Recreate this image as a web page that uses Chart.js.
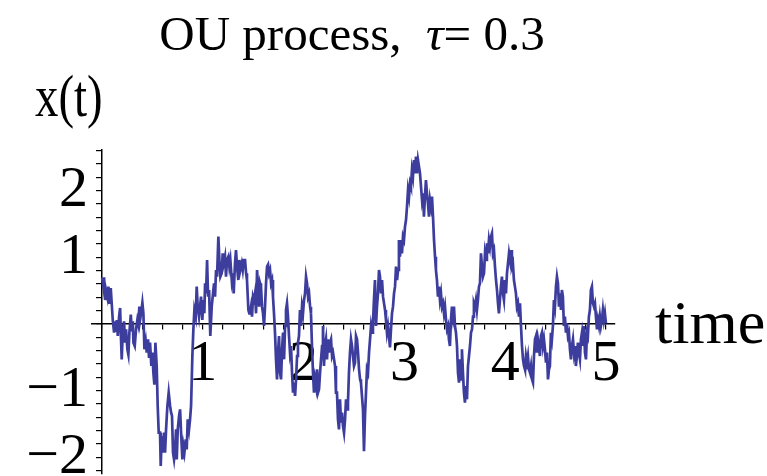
<!DOCTYPE html>
<html><head><meta charset="utf-8">
<script src="https://cdn.jsdelivr.net/npm/chart.js@4/dist/chart.umd.min.js"></script>
<style>html,body{margin:0;padding:0;background:#fff}#wrap{width:767px;height:476px}</style>
</head><body><div id="wrap"><canvas id="c" width="767" height="476"></canvas></div>
<script>
const titleParts = ['OU process,  ', '\u03C4', '= 0.3'];
const xAxisLabel = 'time';
const yAxisLabel = 'x(t)';
const xTickValues = [1, 2, 3, 4, 5];
const yTickValues = [-2, -1, 1, 2];

const times = [
0.000,0.013,0.020,0.030,0.040,0.053,0.063,0.073,0.086,0.096,0.106,0.119,0.129,0.139,0.146,0.156,0.169,0.179,0.188,0.195,
0.205,0.218,0.228,0.238,0.251,0.261,0.271,0.285,0.295,0.305,0.311,0.324,0.337,0.350,0.360,0.370,0.377,0.387,0.400,0.410,
0.420,0.433,0.443,0.456,0.466,0.476,0.489,0.499,0.509,0.519,0.529,0.542,0.552,0.562,0.575,0.582,0.592,0.602,0.615,0.625,
0.635,0.648,0.661,0.675,0.685,0.694,0.704,0.714,
0.724,0.734,0.741,0.751,0.764,0.774,0.784,0.797,0.807,0.817,0.830,0.840,0.850,0.863,0.873,0.883,0.896,0.906,0.916,0.929,
0.939,0.949,0.962,0.972,0.982,0.995,1.005,1.015,1.022,1.032,1.042,1.052,1.062,1.074,1.088,1.101,1.111,1.121,1.131,1.141,
1.154,1.164,1.174,1.187,1.197,1.207,1.220,1.230,1.240,1.253,1.263,1.273,1.287,1.296,1.306,1.319,1.329,1.339,1.352,1.362,
1.372,1.386,1.396,1.406,1.419,1.429,1.438,1.452,1.461,
1.468,1.478,1.488,1.498,1.508,1.518,1.528,1.538,1.548,1.558,1.568,1.577,1.587,1.597,1.607,1.617,1.627,1.637,1.647,1.657,
1.667,1.677,1.687,1.696,1.706,1.716,1.726,1.736,1.746,1.756,1.766,1.776,1.786,1.796,1.806,1.816,1.825,1.835,1.845,1.855,
1.865,1.875,1.885,1.895,1.905,1.915,1.925,1.935,1.944,1.954,1.964,1.974,1.984,1.994,2.004,2.014,2.024,2.034,2.044,2.054,
2.064,2.073,2.083,2.093,2.103,2.113,2.123,2.133,2.143,2.153,2.163,2.173,2.183,2.192,2.202,
2.212,2.222,2.232,2.242,2.252,2.262,2.272,2.282,2.292,2.302,2.312,2.321,2.331,2.341,2.351,2.361,2.371,2.381,2.391,2.401,
2.411,2.421,2.431,2.440,2.450,2.460,2.470,2.480,2.490,2.500,2.510,2.520,2.530,2.540,2.550,2.560,2.569,2.579,2.589,2.599,
2.609,2.619,2.629,2.639,2.649,2.659,2.669,2.679,2.688,2.698,2.708,2.718,2.728,2.738,2.748,2.758,2.768,2.778,2.788,2.798,
2.808,2.817,2.827,2.837,2.847,2.857,2.867,2.877,2.887,2.897,2.907,2.917,2.927,2.937,2.946,
2.956,2.966,2.976,2.986,2.996,3.006,3.016,3.026,3.036,3.046,3.056,3.065,3.075,3.085,3.095,3.105,3.115,3.125,3.135,3.145,
3.155,3.165,3.175,3.185,3.194,3.204,3.214,3.224,3.234,3.244,3.254,3.264,3.274,3.284,3.294,3.304,3.313,3.323,3.333,3.343,
3.353,3.363,3.373,3.383,3.393,3.403,3.413,3.423,3.433,3.442,3.452,3.462,3.472,3.482,3.492,3.502,3.512,3.522,3.532,3.542,
3.552,3.562,3.571,3.581,3.591,3.601,3.611,3.621,3.631,3.641,3.651,3.661,3.671,3.681,3.690,
3.700,3.710,3.720,3.730,3.740,3.750,3.760,3.770,3.780,3.790,3.800,3.810,3.819,3.829,3.839,3.849,3.859,3.869,3.879,3.889,
3.899,3.909,3.919,3.929,3.938,3.948,3.958,3.968,3.978,3.988,3.998,4.008,4.018,4.028,4.038,4.048,4.058,4.067,4.077,4.087,
4.097,4.107,4.117,4.127,4.137,4.147,4.157,4.167,4.177,4.187,4.196,4.206,4.216,4.226,4.236,4.246,4.256,4.266,4.276,4.286,
4.296,4.306,4.315,4.325,4.335,4.345,4.355,4.365,4.375,4.385,4.395,4.405,4.415,4.425,4.435,
4.444,4.454,4.464,4.474,4.484,4.494,4.504,4.514,4.524,4.534,4.544,4.554,4.563,4.573,4.583,4.593,4.603,4.613,4.623,4.633,
4.643,4.653,4.663,4.673,4.683,4.692,4.702,4.712,4.722,4.732,4.742,4.752,4.762,4.772,4.782,4.792,4.802,4.812,4.821,4.831,
4.841,4.851,4.861,4.871,4.881,4.891,4.901,4.911,4.921,4.931,4.940,4.950,4.960,4.970,4.980,4.990,5.000
];

const values = [
0.70,0.56,0.70,0.36,0.50,0.40,0.56,0.30,0.54,0.30,0.06,-0.13,0.04,-0.10,0.06,-0.18,0.11,0.24,-0.23,-0.53,
-0.13,0.04,-0.28,-0.08,-0.38,-0.46,-0.13,0.14,-0.11,0.04,-0.28,-0.33,-0.08,0.06,-0.01,0.26,0.06,0.16,0.32,0.16,
-0.38,-0.26,-0.43,-0.23,-0.51,-0.28,-0.63,-0.43,-0.73,-0.91,-0.28,-0.63,-1.23,-1.63,-1.63,-2.13,-1.68,-1.93,-1.63,-1.93,
-1.58,-1.23,-1.03,-1.23,-1.33,-1.38,-1.93,-2.03,
-1.88,-1.58,-2.03,-1.58,-1.38,-1.28,-1.63,-2.03,-1.83,-1.93,-1.73,-1.88,-1.43,-1.58,-1.43,-1.23,-0.48,-0.08,0.21,0.11,
0.56,0.26,0.11,0.26,0.41,0.06,0.36,0.16,0.61,0.46,0.96,0.41,0.51,-0.18,0.26,0.46,0.61,0.41,0.81,0.71,
1.31,0.96,0.71,0.76,1.06,0.91,1.01,0.71,0.96,1.01,0.86,0.96,0.66,0.76,0.46,0.91,1.11,0.86,0.66,0.96,
0.81,0.91,0.81,0.96,0.96,0.76,0.66,0.21,0.16,
0.16,0.26,0.11,0.41,0.36,0.46,0.16,0.81,0.56,0.26,0.61,0.56,0.26,0.16,-0.03,0.26,0.61,0.86,0.89,0.76,
0.81,0.61,0.66,0.41,0.16,-0.13,-0.53,-0.83,-0.43,-0.18,-0.73,-0.83,-0.38,-0.13,-0.53,-0.03,0.21,0.31,0.11,-0.18,
-0.43,-0.33,-0.73,-1.03,-0.88,-1.08,-0.83,-0.48,-0.28,-0.18,0.21,-0.03,0.26,0.16,0.36,0.46,0.71,0.61,0.41,0.46,
0.26,0.16,-0.33,-0.73,-1.03,-0.83,-0.93,-0.68,-1.03,-0.98,-0.73,-0.53,-0.33,-0.03,-0.63,
-0.33,-0.23,-0.53,-0.23,-0.43,-0.28,-0.23,-0.48,-0.43,-0.53,-0.63,-1.03,-1.03,-1.43,-1.58,-1.13,-1.48,-1.33,-1.53,-1.63,
-1.43,-1.13,-1.28,-1.18,-0.73,-0.43,-0.23,-0.33,-0.48,-0.63,-0.58,-0.18,-0.23,-0.43,-0.68,-0.83,-0.88,-1.08,-1.28,-1.91,
-1.38,-1.03,-0.68,-0.73,-0.43,-0.23,-0.03,-0.13,0.01,0.36,0.66,-0.03,0.26,0.46,0.81,0.71,0.46,0.66,0.41,0.31,
0.21,0.06,-0.13,-0.03,-0.18,-0.35,-0.08,0.16,0.26,0.46,0.56,0.86,0.66,0.81,1.26,
1.01,1.26,1.06,1.31,1.26,1.46,1.56,1.76,2.01,1.91,2.11,2.06,2.31,2.21,2.46,2.26,2.51,2.26,2.46,2.36,
2.26,2.06,1.86,1.96,1.61,1.91,2.16,1.96,1.81,1.61,1.86,1.76,1.91,1.61,1.26,1.01,0.81,0.66,0.41,0.56,
0.36,0.46,0.26,0.31,0.16,0.26,0.06,-0.08,-0.03,-0.23,-0.33,0.06,0.26,0.11,0.26,-0.03,-0.13,-0.33,-0.73,-0.88,
-0.53,-0.83,-0.38,-0.73,-1.03,-1.18,-0.93,-1.13,-0.63,-0.48,-0.33,-0.13,-0.08,0.11,0.31,
0.26,0.36,0.21,0.36,0.56,0.61,1.06,0.86,0.71,0.76,1.06,0.96,1.21,1.06,1.26,1.16,1.31,1.36,1.06,1.11,
0.86,0.66,0.51,0.31,0.16,0.36,0.56,0.71,0.46,0.36,0.66,0.46,0.76,0.91,1.06,0.96,1.11,0.86,0.91,0.66,
0.56,0.46,0.26,0.31,0.11,0.31,-0.03,-0.33,-0.53,-0.63,-0.68,-0.48,-0.58,-0.48,-0.68,-0.73,-0.63,-0.83,-0.88,-0.48,
-0.23,-0.18,-0.43,-0.23,-0.33,-0.48,-0.18,-0.13,-0.33,-0.23,-0.38,-0.58,-0.43,-0.83,-0.68,
-0.63,-0.13,-0.23,-0.03,0.36,0.26,0.56,0.71,0.61,0.26,0.46,0.21,0.51,0.41,-0.03,0.11,-0.13,0.01,-0.18,-0.13,
-0.38,-0.53,-0.33,-0.23,-0.43,-0.33,-0.63,-0.48,-0.28,-0.43,-0.53,-0.23,-0.13,-0.33,-0.03,-0.43,-0.53,-0.13,-0.18,0.11,
0.21,0.51,0.56,0.31,0.26,0.31,0.11,-0.08,0.06,-0.03,0.11,-0.03,0.06,0.21,0.06,0.16,0.01
];

const FONT = "'Liberation Serif', 'Times New Roman', serif";
const TICK_FONT_SIZE = 58;

function isMajor(v, list) {
  for (const m of list) if (Math.abs(v - m) < 1e-6) return m;
  return null;
}
function fmt(m) { return m < 0 ? '\u2212' + Math.abs(m) : String(m); }

const textPlugin = {
  id: 'plotTexts',
  afterDraw(chart) {
    const { ctx, scales } = chart;
    const xs = scales.x, ys = scales.y;
    ctx.save();
    ctx.fillStyle = '#000';
    ctx.textBaseline = 'alphabetic';
    ctx.textAlign = 'left';
    // title
    const fs = 49;
    const reg = `${fs}px ${FONT}`, ital = `italic ${fs}px ${FONT}`;
    ctx.font = reg; const w1 = ctx.measureText(titleParts[0]).width;
    ctx.font = ital; const w2 = ctx.measureText(titleParts[1]).width;
    ctx.font = reg; const w3 = ctx.measureText(titleParts[2]).width;
    const sx = 1.0;
    const total = (w1 + w2 + w3) * sx;
    ctx.save();
    ctx.translate(352 - total / 2, 50);
    ctx.scale(sx, 1);
    let tx = 0;
    ctx.font = reg; ctx.fillText(titleParts[0], tx, 0); tx += w1;
    ctx.font = ital; ctx.fillText(titleParts[1], tx, 0); tx += w2;
    ctx.font = reg; ctx.fillText(titleParts[2], tx, 0);
    ctx.restore();
    // y axis label
    ctx.save();
    ctx.translate(35, 116);
    ctx.scale(0.78, 1);
    ctx.font = `60px ${FONT}`;
    ctx.fillText(yAxisLabel, 0, 0);
    ctx.restore();
    // x axis label
    const zeroY = ys.getPixelForValue(0);
    ctx.font = `62px ${FONT}`;
    ctx.fillText(xAxisLabel, xs.right + 40, zeroY + 19);
    ctx.restore();
  }
};

const gridCommon = { drawOnChartArea: false, drawTicks: true, tickLength: 5, color: '#000', lineWidth: 1.2 };
const borderCommon = { display: true, color: '#000', width: 1.5 };
function noPadY(s) { s.width = 0; s.paddingTop = 0; s.paddingBottom = 0; s.paddingLeft = 0; s.paddingRight = 0; }
function noPadX(s) { s.height = 0; s.paddingTop = 0; s.paddingBottom = 0; s.paddingLeft = 0; s.paddingRight = 0; }

new Chart(document.getElementById('c').getContext('2d'), {
  type: 'line',
  data: {
    datasets: [{
      data: times.map((t, i) => ({ x: t, y: values[i] })),
      borderColor: '#3d3d9e',
      borderWidth: 2.7,
      pointRadius: 0,
      tension: 0,
      fill: false
    }]
  },
  options: {
    responsive: false,
    animation: false,
    devicePixelRatio: 1,
    layout: { padding: { left: 92, right: 152, top: 150, bottom: 2 } },
    plugins: { legend: { display: false }, tooltip: { enabled: false }, title: { display: false } },
    scales: {
      x: {
        type: 'linear', min: -0.1, max: 5.09, position: { y: 0 },
        afterFit: noPadX,
        grid: gridCommon, border: borderCommon,
        ticks: {
          stepSize: 0.2, includeBounds: false, autoSkip: false, maxRotation: 0, minRotation: 0,
          padding: 7, color: '#000',
          font: { family: FONT, size: TICK_FONT_SIZE, lineHeight: 1 },
          callback: (v) => { const m = isMajor(v, xTickValues); return m === null ? '' : fmt(m); }
        }
      },
      y: {
        type: 'linear', min: -2.25, max: 2.61, position: { x: 0 },
        afterFit: noPadY,
        grid: gridCommon, border: borderCommon,
        ticks: { stepSize: 0.2, includeBounds: false, display: false }
      },
      yLabels: {
        type: 'linear', axis: 'y', min: -2.25, max: 2.61, position: { x: -0.14 },
        afterFit: noPadY,
        grid: { display: false }, border: { display: false },
        ticks: {
          stepSize: 0.2, includeBounds: false, autoSkip: false, color: '#000',
          font: { family: FONT, size: TICK_FONT_SIZE, lineHeight: 1 },
          callback: (v) => { const m = isMajor(v, yTickValues); return m === null ? '' : fmt(m); }
        }
      }
    }
  },
  plugins: [textPlugin]
});
</script>
</body></html>
